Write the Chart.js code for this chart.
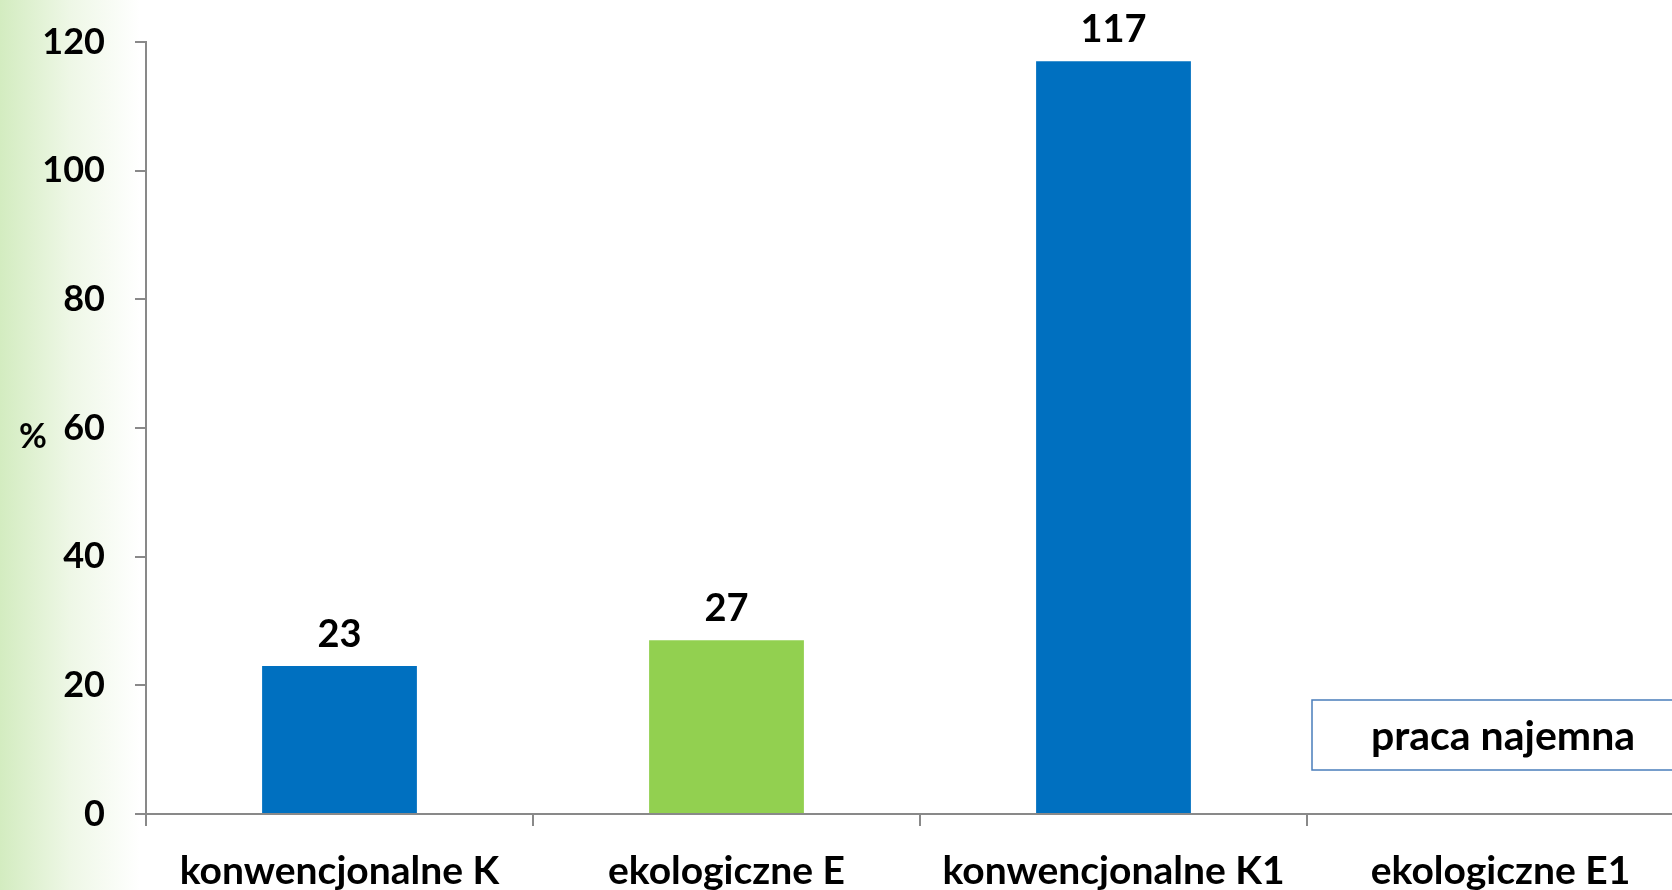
<!DOCTYPE html>
<html>
<head>
<meta charset="utf-8">
<script src="https://cdn.jsdelivr.net/npm/chart.js@4.4.1/dist/chart.umd.min.js"></script>
<style>
  html, body { margin: 0; padding: 0; width: 1672px; height: 890px; overflow: hidden;
    background: linear-gradient(to right, #d3ecc0 0px, #eef7e6 70px, #ffffff 140px); }
  #c { display: block; }
</style>
</head>
<body>
<canvas id="c" width="1700" height="890"></canvas>
<script>
const categories = ['konwencjonalne K', 'ekologiczne E', 'konwencjonalne K1', 'ekologiczne E1'];
const values = [23, 27, 117, null];
const valueLabels = ['23', '27', '117', ''];
const yTickValues = [0, 20, 40, 60, 80, 100, 120];
const yAxisTitle = '%';
const boxText = 'praca najemna';

const BLUE = '#0070C0', GREEN = '#92D050', AXIS = '#898989';

const labelPlugin = {
  id: 'labels',
  afterDatasetsDraw(chart) {
    const ctx = chart.ctx;
    const meta = chart.getDatasetMeta(0);
    ctx.save();
    ctx.fillStyle = '#000';
    ctx.font = 'bold 38px Lato';
    ctx.textAlign = 'center';
    ctx.textBaseline = 'alphabetic';
    meta.data.forEach((bar, i) => {
      if (values[i] == null) return;
      ctx.fillText(valueLabels[i], bar.x, bar.y - 19);
    });
    // y axis title
    const ca = chart.chartArea;
    ctx.font = 'bold 34px Lato';
    ctx.textBaseline = 'middle';
    ctx.fillText(yAxisTitle, ca.left - 113, (ca.top + ca.bottom) / 2 + 9);
    // annotation box
    const x = chart.scales.x;
    const boundary = (x.getPixelForValue(2) + x.getPixelForValue(3)) / 2;
    const left = boundary + 5, right = ca.right;
    const top = ca.bottom - 114, bottom = ca.bottom - 44;
    ctx.strokeStyle = '#4a7ebb';
    ctx.lineWidth = 1.5;
    ctx.strokeRect(left, top, right - left, bottom - top);
    ctx.font = 'bold 41px Lato';
    ctx.textBaseline = 'middle';
    ctx.fillText(boxText, (left + right) / 2, (top + bottom) / 2 + 2);
    ctx.restore();
  }
};

new Chart(document.getElementById('c'), {
  type: 'bar',
  data: {
    labels: categories,
    datasets: [{
      data: values,
      backgroundColor: [BLUE, GREEN, BLUE, BLUE],
      borderWidth: 0,
      barPercentage: 0.4,
      categoryPercentage: 1.0
    }]
  },
  options: {
    responsive: false,
    animation: false,
    layout: { padding: { top: 42, right: 6, left: 0, bottom: 0 } },
    plugins: { legend: { display: false }, tooltip: { enabled: false } },
    scales: {
      x: {
        offset: true,
        grid: { offset: true, drawOnChartArea: false, color: AXIS, lineWidth: 2, tickLength: 12 },
        border: { color: AXIS, width: 2 },
        ticks: { color: '#000', font: { family: 'Lato', weight: 'bold', size: 39 }, padding: 22, maxRotation: 0 },
        afterFit(s) { s.height = 76; s.paddingLeft = 0; s.paddingRight = 0; }
      },
      y: {
        min: 0, max: 120,
        afterBuildTicks(s) { s.ticks = yTickValues.map(v => ({ value: v })); },
        grid: { drawOnChartArea: false, color: AXIS, lineWidth: 2, tickLength: 11 },
        border: { color: AXIS, width: 2 },
        ticks: { color: '#000', font: { family: 'Lato', weight: 'bold', size: 36 }, padding: 30 },
        afterFit(s) { s.width = 146; s.paddingTop = 0; s.paddingBottom = 0; }
      }
    }
  },
  plugins: [labelPlugin]
});
</script>
</body>
</html>
